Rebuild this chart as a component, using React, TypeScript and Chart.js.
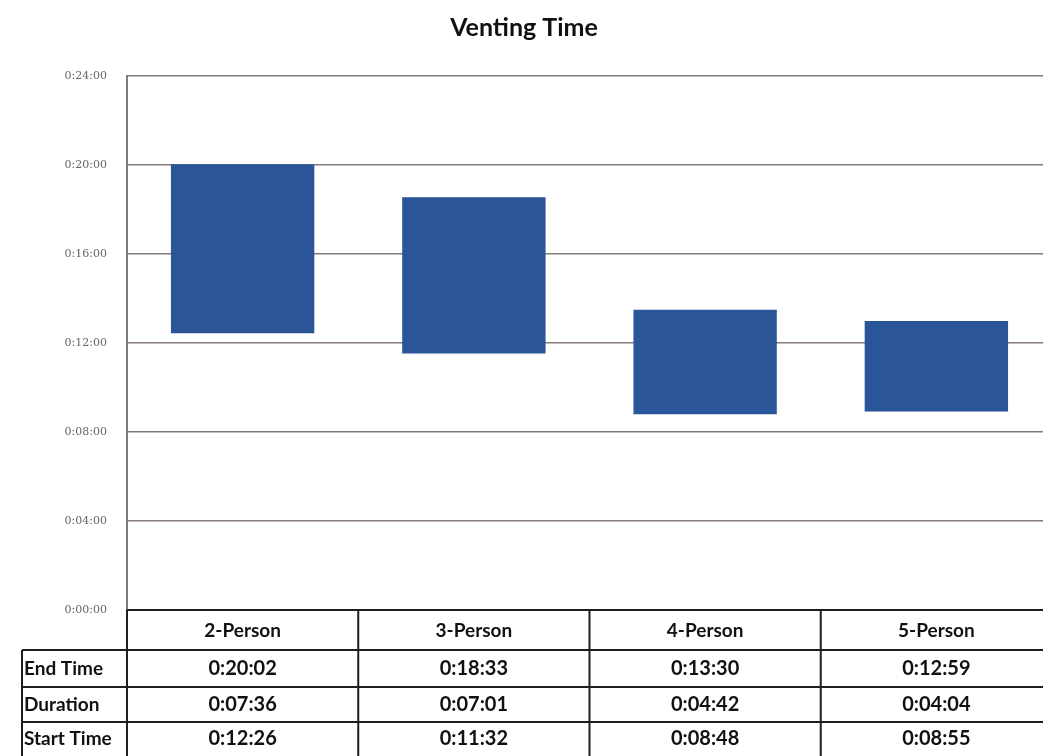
import React, { useEffect, useRef } from "react";
import { Chart, registerables } from "chart.js";

Chart.register(...registerables);

const categories = ["2-Person", "3-Person", "4-Person", "5-Person"];
const endTimes = ["0:20:02", "0:18:33", "0:13:30", "0:12:59"];
const durations = ["0:07:36", "0:07:01", "0:04:42", "0:04:04"];
const startTimes = ["0:12:26", "0:11:32", "0:08:48", "0:08:55"];
const rowLabels = ["End Time", "Duration", "Start Time"];
const yMaxMinutes = 24;
const yStepMinutes = 4;

const toSec = (s: string) => {
  const [h, m, sec] = s.split(":").map(Number);
  return h * 3600 + m * 60 + sec;
};
const fmtTick = (v: number) => {
  const m = Math.round(v / 60);
  return `0:${String(m).padStart(2, "0")}:00`;
};

const W = 1052;
const H = 756;

const tablePlugin = {
  id: "dataTable",
  afterDraw(chart: any) {
    const ctx = chart.ctx;
    const area = chart.chartArea;
    const n = categories.length;
    const colW = (area.right - area.left) / n;
    const top = area.bottom;
    const rows = [top, top + 40, top + 77, top + 112, H];
    const labelLeft = 22;
    ctx.save();
    ctx.strokeStyle = "#1e1e1e";
    ctx.lineWidth = 2;
    ctx.beginPath();
    ctx.moveTo(area.left, rows[0]);
    ctx.lineTo(area.right, rows[0]);
    for (let r = 1; r < 4; r++) {
      ctx.moveTo(labelLeft, rows[r]);
      ctx.lineTo(area.right, rows[r]);
    }
    ctx.moveTo(labelLeft, rows[1]);
    ctx.lineTo(labelLeft, H);
    for (let i = 0; i < n; i++) {
      const x = area.left + i * colW;
      ctx.moveTo(x, rows[0]);
      ctx.lineTo(x, H);
    }
    ctx.stroke();

    ctx.fillStyle = "#111";
    ctx.textBaseline = "middle";
    ctx.textAlign = "center";
    const valueRows = [endTimes, durations, startTimes];
    for (let i = 0; i < n; i++) {
      const cx = area.left + (i + 0.5) * colW;
      ctx.font = "bold 19px Lato";
      ctx.fillText(categories[i], cx, (rows[0] + rows[1]) / 2 + 1);
      ctx.font = "bold 20px Lato";
      for (let r = 0; r < 3; r++) {
        ctx.fillText(valueRows[r][i], cx, (rows[r + 1] + rows[r + 2]) / 2);
      }
    }
    ctx.textAlign = "left";
    ctx.font = "bold 19px Lato";
    for (let r = 0; r < 3; r++) {
      ctx.fillText(rowLabels[r], labelLeft + 2, (rows[r + 1] + rows[r + 2]) / 2);
    }
    ctx.font = "bold 25px Lato";
    ctx.textAlign = "center";
    ctx.fillText("Venting Time", 524, 28);
    ctx.restore();
  },
};

export default function App() {
  const ref = useRef<HTMLCanvasElement | null>(null);
  useEffect(() => {
    document.body.style.margin = "0";
    const barData = categories.map((_, i) => [toSec(startTimes[i]), toSec(endTimes[i])]);
    const chart = new Chart(ref.current!, {
      type: "bar",
      data: {
        labels: categories,
        datasets: [
          {
            label: "Venting",
            data: barData as any,
            backgroundColor: "#2a5598",
            borderWidth: 0,
            barPercentage: 0.62,
            categoryPercentage: 1,
          },
        ],
      },
      options: {
        animation: false,
        responsive: false,
        layout: { padding: { top: 76, bottom: 146, left: 0, right: 0 } },
        plugins: {
          legend: { display: false },
          title: { display: false },
          tooltip: { enabled: false },
        },
        scales: {
          x: { display: false, offset: true },
          y: {
            min: 0,
            max: yMaxMinutes * 60,
            afterFit: (scale: any) => {
              scale.width = 127;
            },
            ticks: {
              stepSize: yStepMinutes * 60,
              callback: (v: any) => fmtTick(Number(v)),
              font: { size: 11, family: "DejaVu Serif" },
              color: "#666",
              padding: 20,
            },
            grid: { color: "#857a78", lineWidth: 1.5, drawTicks: false },
            border: { color: "#857a78", width: 2 },
          },
        },
      },
      plugins: [tablePlugin],
    });
    return () => chart.destroy();
  }, []);
  return (
    <div style={{ width: 1043, height: 756, overflow: "hidden", background: "#fff" }}>
      <canvas ref={ref} width={W} height={H} style={{ display: "block" }} />
    </div>
  );
}
